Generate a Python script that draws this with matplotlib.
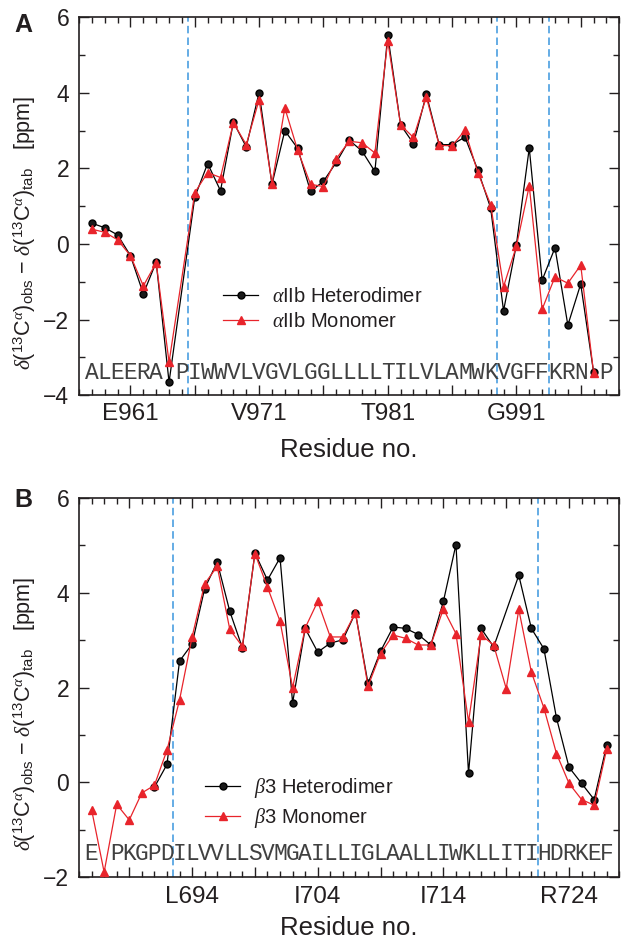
import numpy as np
import matplotlib
matplotlib.use('Agg')
import matplotlib.pyplot as plt
from matplotlib.ticker import FixedLocator, MultipleLocator, FuncFormatter
from matplotlib.lines import Line2D

plt.rcParams['font.family'] = ['Liberation Sans', 'DejaVu Sans']
plt.rcParams['mathtext.fontset'] = 'custom'
plt.rcParams['mathtext.rm'] = 'Liberation Sans'
plt.rcParams['mathtext.it'] = 'Liberation Serif:italic'
plt.rcParams['mathtext.bf'] = 'Liberation Sans:bold'

# ---------------- Panel A data (alpha IIb) ----------------
a_res = [958, 959, 960, 961, 962, 963, 964,
         966, 967, 968, 969, 970, 971, 972, 973, 974, 975, 976, 977, 978, 979,
         980, 981, 982, 983, 984, 985, 986, 987, 988, 989, 990, 991, 992, 993,
         994, 995, 996, 997]
a_het = [0.55, 0.43, 0.24, -0.31, -1.32, -0.48, -3.66,
         1.24, 2.13, 1.41, 3.23, 2.57, 4.01, 1.58, 3.00, 2.53, 1.39, 1.66, 2.16, 2.75, 2.46,
         1.92, 5.53, 3.15, 2.66, 3.96, 2.63, 2.63, 2.83, 1.96, 0.95, -1.77, -0.02, 2.54, -0.96,
         -0.10, -2.15, -1.06, -3.39]
a_mon = [0.39, 0.31, 0.11, -0.31, -1.11, -0.50, -3.13,
         1.36, 1.89, 1.76, 3.21, 2.63, 3.82, 1.60, 3.60, 2.48, 1.58, 1.52, 2.26, 2.72, 2.68,
         2.41, 5.38, 3.15, 2.82, 3.89, 2.61, 2.60, 3.01, 1.89, 1.04, -1.13, -0.06, 1.54, -1.73,
         -0.87, -1.04, -0.56, -3.41]
a_seq_start = 958
a_seq = "ALEERA PIWWVLVGVLGGLLLLTILVLAMWKVGFFKRN P"
a_tick_res = [961, 971, 981, 991]
a_tick_lab = ["E961", "V971", "T981", "G991"]
a_vlines = [965.5, 989.5, 993.5]
a_labels = [r"$\alpha$IIb Heterodimer", r"$\alpha$IIb Monomer"]

# ---------------- Panel B data (beta 3) ----------------
b_res_mon = list(range(686, 728))
b_mon = [-0.57, -1.89, -0.46, -0.79, -0.22, -0.06, 0.68, 1.74, 3.07, 4.19,
         4.56, 3.23, 2.87, 4.83, 4.12, 3.40, 2.00, 3.26, 3.82, 3.07,
         3.07, 3.58, 2.03, 2.72, 3.11, 3.04, 2.90, 2.90, 3.66, 3.14,
         1.28, 3.11, 2.90, 1.98, 3.65, 2.33, 1.57, 0.61, -0.02, -0.36,
         -0.48, 0.71]
b_res_het = [691, 692, 693, 694, 695, 696, 697, 698, 699, 700, 701, 702, 703, 704,
             705, 706, 707, 708, 709, 710, 711, 712, 713, 714, 715, 716, 717, 718,
             720, 721, 722, 723, 724, 725, 726, 727]
b_het = [-0.10, 0.38, 2.56, 2.92, 4.09, 4.65, 3.61, 2.84, 4.84, 4.27, 4.74, 1.68, 3.25, 2.75,
         2.94, 3.01, 3.58, 2.09, 2.77, 3.28, 3.25, 3.12, 2.90, 3.82, 5.02, 0.19, 3.25, 2.86,
         4.37, 3.25, 2.82, 1.36, 0.32, -0.02, -0.36, 0.79]
b_seq_start = 686
b_seq = "E PKGPDILVVLLSVMGAILLIGLAALLIWKLLITIHDRKEF"
b_tick_res = [694, 704, 714, 724]
b_tick_lab = ["L694", "I704", "I714", "R724"]
b_vlines = [692.5, 721.5]
b_labels = [r"$\beta$3 Heterodimer", r"$\beta$3 Monomer"]

RED = '#e8242b'
BLUE = '#4a9ee0'
TXT = '#231f20'

fig = plt.figure(figsize=(6.25, 9.39), dpi=100)

ylabel = (r"$\mathit{\delta}(^{13}\mathrm{C}^{\mathit{\alpha}})_{\mathrm{obs}}"
          r"\,-\,\mathit{\delta}(^{13}\mathrm{C}^{\mathit{\alpha}})_{\mathrm{tab}}$   [ppm]")


def panel(rect, xlim, ylim, res_het, het, res_mon, mon, seq_start, seq, seq_y,
          tick_res, tick_lab, vlines, labels, leg_anchor, letter, letter_y, xlab_y, ylab_y):
    ax = fig.add_axes(rect)
    ax.set_xlim(*xlim)
    ax.set_ylim(*ylim)
    for v in vlines:
        ax.axvline(v, color=BLUE, lw=1.2, ls=(0, (4.5, 2.5)), zorder=1)
    for i, ch in enumerate(seq):
        if ch != ' ':
            ax.text(seq_start + i, seq_y, ch, family='Liberation Mono', fontsize=16.5,
                    ha='center', va='baseline', color='#404040', zorder=2)
    ax.plot(res_het, het, color='black', lw=0.9, marker='o', ms=5,
            mec='black', mfc='#1a1a1a', zorder=3)
    ax.plot(res_mon, mon, color=RED, lw=0.9, marker='^', ms=5.2,
            mec=RED, mfc=RED, zorder=4)
    majors = [r for r in range(int(np.ceil(xlim[0])), int(xlim[1]) + 1)
              if (r - tick_res[0]) % 5 == 0]
    ax.xaxis.set_major_locator(FixedLocator(majors))
    ax.xaxis.set_minor_locator(MultipleLocator(1))
    labmap = dict(zip(tick_res, tick_lab))
    ax.xaxis.set_major_formatter(FuncFormatter(lambda x, p: labmap.get(int(round(x)), '')))
    ax.yaxis.set_major_locator(MultipleLocator(2))
    ax.yaxis.set_minor_locator(MultipleLocator(1))
    ax.tick_params(axis='both', which='both', direction='in', top=True, right=True,
                   color=TXT, width=1.0)
    ax.tick_params(which='major', length=7.5)
    ax.tick_params(which='minor', length=4)
    ax.tick_params(axis='x', which='major', labelsize=17.5, pad=6, labelcolor=TXT)
    ax.tick_params(axis='y', which='major', labelsize=16.5, pad=7, labelcolor=TXT)
    for s in ax.spines.values():
        s.set_linewidth(1.2)
        s.set_color(TXT)
    ax.set_xlabel('Residue no.', fontsize=18.5, color=TXT)
    ax.xaxis.label.set_va('center')
    ax.xaxis.set_label_coords(0.5, xlab_y)
    ax.set_ylabel(ylabel, fontsize=15.5, color=TXT)
    ax.yaxis.label.set_va('center')
    ax.yaxis.set_label_coords(-0.1, ylab_y)
    handles = [Line2D([], [], color='black', lw=0.9, marker='o', ms=5, mfc='#1a1a1a', mec='black'),
               Line2D([], [], color=RED, lw=0.9, marker='^', ms=5.2, mfc=RED, mec=RED)]
    ax.legend(handles, labels, loc='center left', bbox_to_anchor=leg_anchor, frameon=False,
              fontsize=14.5, handlelength=1.75, handletextpad=0.7, borderpad=0,
              borderaxespad=0, labelspacing=0.3, labelcolor=TXT)
    fig.text(0.037, letter_y, letter, fontsize=18, fontweight='bold', ha='center',
             va='center', color=TXT)
    return ax


panel([0.1264, 0.5793, 0.8645, 0.4022], (957, 999), (-4, 6), a_res, a_het, a_res, a_mon,
      a_seq_start, a_seq, -3.57, a_tick_res, a_tick_lab, a_vlines, a_labels,
      (0.2665, 0.228), 'A', 0.9734, -0.146, 0.43)
panel([0.1264, 0.0657, 0.8645, 0.4039], (685, 728), (-2, 6), b_res_het, b_het, b_res_mon, b_mon,
      b_seq_start, b_seq, -1.64, b_tick_res, b_tick_lab, b_vlines, b_labels,
      (0.233, 0.195), 'B', 0.4675, -0.133, 0.43)

fig.savefig('out.png', dpi=100)
